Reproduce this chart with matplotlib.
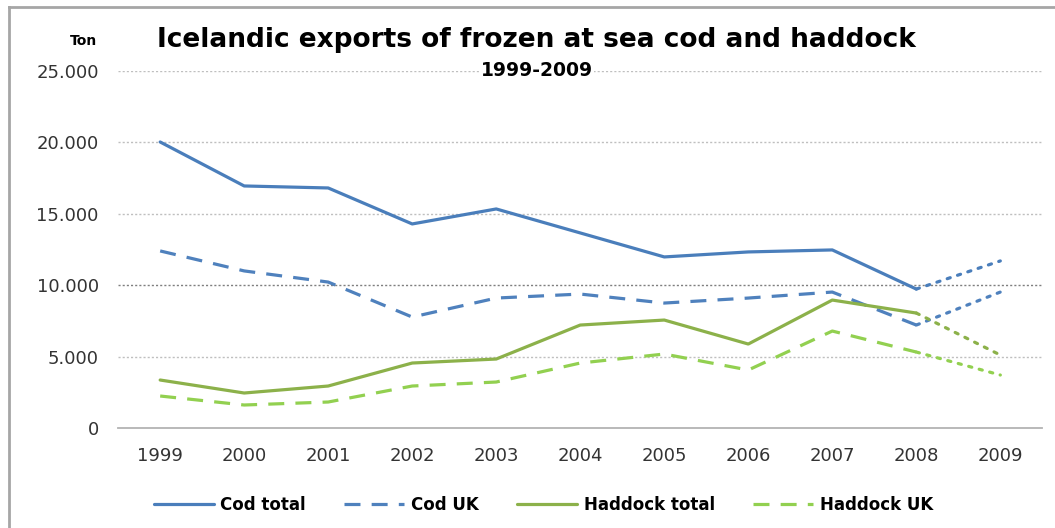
import numpy as np
import matplotlib.pyplot as plt
from matplotlib.ticker import FuncFormatter

# Icelandic exports of frozen-at-sea cod and haddock, tonnes
years = [1999, 2000, 2001, 2002, 2003, 2004, 2005, 2006, 2007, 2008, 2009]
cod_total = [20030, 16950, 16810, 14290, 15340, 13660, 11980, 12330, 12470, 9730, 11700]
cod_uk = [12400, 11000, 10220, 7770, 9100, 9380, 8750, 9100, 9520, 7210, 9520]
haddock_total = [3360, 2450, 2940, 4550, 4830, 7210, 7560, 5880, 8960, 8050, 5110]
haddock_uk = [2240, 1610, 1820, 2940, 3220, 4550, 5180, 4060, 6790, 5320, 3710]

labels = ["Cod total", "Cod UK", "Haddock total", "Haddock UK"]
colors = ["#4a7ebb", "#4f81bd", "#8cb14a", "#92d050"]
styles = ["-", (0, (5, 3.5)), "-", (0, (5, 3.5))]
series = [cod_total, cod_uk, haddock_total, haddock_uk]

fig = plt.figure(figsize=(10.55, 5.28), dpi=100)
ax = fig.add_axes([0.112, 0.1894, 0.876, 0.6761])

x = np.arange(len(years))
handles = []
for vals, col, ls, lab in zip(series, colors, styles, labels):
    # 1999-2008 in the series' own style, last year dotted
    h, = ax.plot(x[:-1], vals[:-1], color=col, ls=ls, lw=2.3, label=lab,
                 solid_capstyle="round", dash_capstyle="butt")
    ax.plot(x[-2:], vals[-2:], color=col, ls=(0, (1, 2.4)), lw=2.3,
            dash_capstyle="round")
    handles.append(h)

ax.set_xlim(-0.5, len(years) - 0.5)
ax.set_ylim(0, 25000)
ax.set_yticks(range(0, 25001, 5000))
ax.yaxis.set_major_formatter(FuncFormatter(lambda v, p: f"{int(v):,}".replace(",", ".")))
ax.set_xticks(x)
ax.set_xticklabels([str(y) for y in years])

for v in range(5000, 25001, 5000):
    c = "#7f7f7f" if v == 10000 else "#bfbfbf"
    ax.axhline(v, color=c, lw=1, ls=(0, (1.5, 1.5)), zorder=0)

for s in ["top", "right", "left"]:
    ax.spines[s].set_visible(False)
ax.spines["bottom"].set_color("#b3b3b3")
ax.spines["bottom"].set_linewidth(1.3)
ax.tick_params(length=0, labelsize=13, colors="#333333")
ax.tick_params(axis="y", pad=14)
ax.tick_params(axis="x", pad=14)

fig.text(0.508, 0.924, "Icelandic exports of frozen at sea cod and haddock",
         ha="center", va="center", fontsize=19, fontweight="bold")
fig.text(0.509, 0.867, "1999-2009", ha="center", va="center", fontsize=13.5,
         fontweight="bold",
         bbox=dict(facecolor="white", edgecolor="none", pad=1))
fig.text(0.079, 0.922, "Ton", ha="center", va="center", fontsize=10,
         fontweight="bold")

fig.legend(handles=handles, loc="center", bbox_to_anchor=(0.515, 0.043), ncol=4,
           frameon=False, handlelength=3.6, columnspacing=2.3, handletextpad=0.4,
           prop={"weight": "bold", "size": 12})

# outer chart frame: left and top edges
fig.add_artist(plt.Line2D([0.0085, 0.0085], [0, 0.987], color="#a6a6a6", lw=2,
                          transform=fig.transFigure))
fig.add_artist(plt.Line2D([0.0085, 1], [0.987, 0.987], color="#a6a6a6", lw=2,
                          transform=fig.transFigure))

fig.savefig("out.png", dpi=100)
